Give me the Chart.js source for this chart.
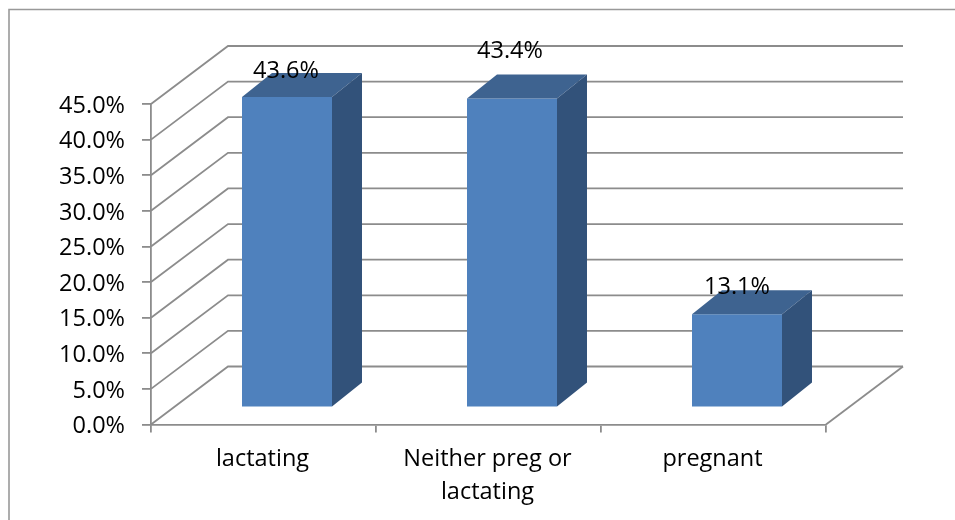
<!DOCTYPE html>
<html>
<head>
<meta charset="utf-8">
<style>
  html, body { margin: 0; padding: 0; background: #fff; }
  canvas { display: block; }
</style>
<script src="https://cdn.jsdelivr.net/npm/chart.js@4"></script>
</head>
<body>
<canvas id="chart" width="955" height="520"></canvas>
<script>
// Share of women by status, as percentages
const categories = ['lactating', ['Neither preg or', 'lactating'], 'pregnant'];
const shares = [43.6, 43.4, 13.1];
const valueLabels = ['43.6%', '43.4%', '13.1%'];
const axisMax = 45;
const axisStep = 5;

// Oblique projection used for the box effect
const wallShift = { x: 77, y: -58 };
const barShift = { x: 23.5, y: -17 };
const barDepth = { x: 30, y: -24 };
const labelLift = [25.5, 47, 27];
const labelNudge = [-1, -2, 0];

const lineColor = '#8c8c8c';
const frameColor = '#999999';
const frontColor = '#4f81bd';
const topColor = '#3e6390';
const sideColor = '#32527a';
const textFont = '23.5px "Open Sans"';
const lineWeight = 1.8;

function strokePath(ctx, points, color, width) {
  ctx.save();
  ctx.strokeStyle = color;
  ctx.lineWidth = width;
  ctx.beginPath();
  points.forEach((p, i) => (i ? ctx.lineTo(p[0], p[1]) : ctx.moveTo(p[0], p[1])));
  ctx.stroke();
  ctx.restore();
}

function fillPath(ctx, points, color) {
  ctx.fillStyle = color;
  ctx.beginPath();
  points.forEach((p, i) => (i ? ctx.lineTo(p[0], p[1]) : ctx.moveTo(p[0], p[1])));
  ctx.closePath();
  ctx.fill();
}

const boxPlot = {
  id: 'boxPlot',
  // Outer frame plus the floor and back wall gridlines
  beforeDatasetsDraw(chart) {
    const { ctx, chartArea: area, scales: { y } } = chart;
    strokePath(ctx, [[9, 520], [9, 9.5], [955, 9.5]], frameColor, 1.6);
    y.ticks.forEach(t => {
      const py = y.getPixelForValue(t.value);
      strokePath(ctx, [
        [area.left, py],
        [area.left + wallShift.x, py + wallShift.y],
        [area.right + wallShift.x, py + wallShift.y]
      ], lineColor, lineWeight);
    });
    strokePath(ctx, [
      [area.right, area.bottom],
      [area.right + wallShift.x, area.bottom + wallShift.y]
    ], lineColor, lineWeight);
  },
  // Bars sit partway back on the floor
  beforeDatasetDraw(chart) {
    chart.ctx.save();
    chart.ctx.translate(barShift.x, barShift.y);
  },
  afterDatasetDraw(chart, args) {
    const { ctx } = chart;
    chart.getDatasetMeta(args.index).data.forEach(bar => {
      const { x, y, width, base } = bar.getProps(['x', 'y', 'width', 'base'], true);
      const l = x - width / 2;
      const r = x + width / 2;
      fillPath(ctx, [
        [l, y], [r, y],
        [r + barDepth.x, y + barDepth.y], [l + barDepth.x, y + barDepth.y]
      ], topColor);
      fillPath(ctx, [
        [r, y], [r + barDepth.x, y + barDepth.y],
        [r + barDepth.x, base + barDepth.y], [r, base]
      ], sideColor);
    });
    ctx.restore();
  },
  afterDatasetsDraw(chart) {
    const { ctx } = chart;
    ctx.save();
    ctx.font = textFont;
    ctx.fillStyle = '#000';
    ctx.textAlign = 'center';
    ctx.textBaseline = 'middle';
    chart.getDatasetMeta(0).data.forEach((bar, i) => {
      const { x, y } = bar.getProps(['x', 'y'], true);
      ctx.fillText(valueLabels[i], x + barShift.x + labelNudge[i], y + barShift.y - labelLift[i]);
    });
    ctx.restore();
  }
};

new Chart(document.getElementById('chart'), {
  type: 'bar',
  data: {
    labels: categories,
    datasets: [{
      data: shares,
      backgroundColor: frontColor,
      borderWidth: 0,
      categoryPercentage: 1,
      barPercentage: 0.4
    }]
  },
  plugins: [boxPlot],
  options: {
    responsive: false,
    animation: false,
    events: [],
    layout: { padding: { top: 104, right: 129, left: 0, bottom: 0 } },
    plugins: { legend: { display: false }, tooltip: { enabled: false } },
    scales: {
      x: {
        afterFit: s => { s.height = 95.5; },
        grid: { drawOnChartArea: false, color: lineColor, lineWidth: lineWeight, tickLength: 8, tickColor: lineColor },
        border: { color: lineColor, width: lineWeight },
        ticks: {
          color: '#000',
          font: { family: 'Open Sans', size: 23.5, lineHeight: 1.4 },
          maxRotation: 0,
          padding: 10,
          labelOffset: -1
        }
      },
      y: {
        min: 0,
        max: axisMax,
        afterFit: s => { s.width = 151; },
        grid: { drawOnChartArea: false, color: lineColor, lineWidth: lineWeight, tickLength: 9, tickColor: lineColor },
        border: { color: lineColor, width: lineWeight },
        ticks: {
          stepSize: axisStep,
          color: '#000',
          font: { family: 'Open Sans', size: 23.5 },
          padding: 17,
          labelOffset: 2,
          callback: v => v.toFixed(1) + '%'
        }
      }
    }
  }
});
</script>
</body>
</html>
